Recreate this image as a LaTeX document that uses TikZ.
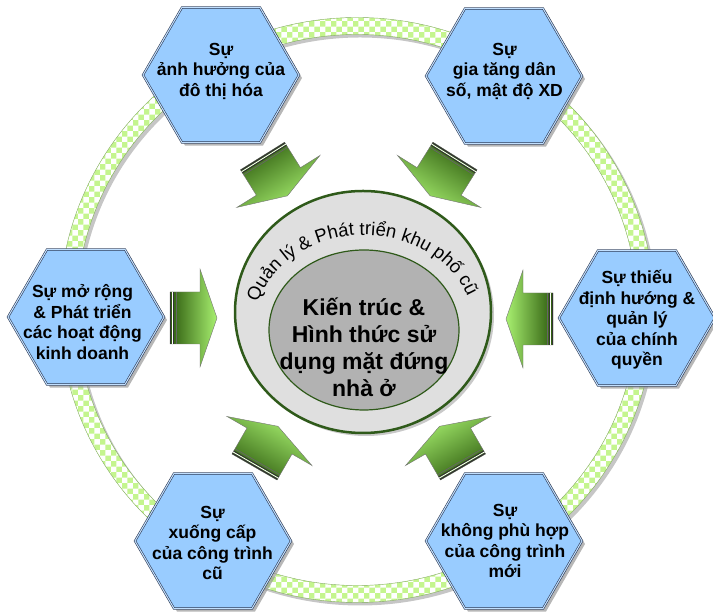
\documentclass[tikz,border=0pt]{standalone}
\usepackage{fontspec}
\setmainfont{Liberation Sans}
\usetikzlibrary{shapes.geometric,shadows,patterns,decorations.text}

\definecolor{hexblue}{HTML}{99CCFF}
\definecolor{hexline}{HTML}{2E3B55}
\definecolor{ringgreen}{HTML}{C4F58E}
\definecolor{ringline}{HTML}{86A86A}
\definecolor{darkleaf}{HTML}{2E5C0E}
\definecolor{lightleaf}{HTML}{A8F070}
\definecolor{rimgreen}{HTML}{2F5A1A}

\tikzset{
  hexa/.style={regular polygon, regular polygon sides=6, minimum size=156pt, inner sep=0pt,
    draw=hexline, line width=0.6pt, double=hexblue!60!white, double distance=1pt, fill=hexblue,
    drop shadow={shadow xshift=3pt, shadow yshift=-3pt, fill=gray!80, opacity=0.7}},
  hextext/.style={align=center, font=\bfseries\fontsize{17.5}{20.5}\selectfont},
  inarrow/.pic={
    \pgfmathsetmacro\shadeang{#1+90}
    \begin{scope}[rotate=#1]
      \shade[draw=black!55, line width=0.4pt, top color=darkleaf, bottom color=lightleaf, shading angle=\shadeang]
        (0,-26) -- (30,-26) -- (30,-49) -- (47,0) -- (30,49) -- (30,26) -- (0,26) -- cycle;
      \draw[black!80, line width=1.2pt] (0.8,-26) -- (0.8,26);
      \draw[white, line width=0.8pt] (2.3,-26) -- (2.3,26);
      \draw[black!80, line width=0.9pt] (3.6,-26) -- (3.6,26);
      \draw[black!60, line width=0.7pt] (6,-26) -- (6,26);
    \end{scope}
  }
}

\begin{document}
\begin{tikzpicture}[x=1pt, y=1pt]
		\useasboundingbox (0,0) rectangle (713,615);

		\fill[gray!45, even odd rule] (360,302) ellipse[x radius=297.5, y radius=292.5] (360,302) ellipse[x radius=280.5, y radius=275.5];
		\filldraw[fill=ringgreen, draw=ringline, even odd rule] (357,305) ellipse[x radius=297.5, y radius=292.5] (357,305) ellipse[x radius=280.5, y radius=275.5];
		\fill[pattern=checkerboard, pattern color=white, even odd rule] (357,305) ellipse[x radius=297, y radius=292] (357,305) ellipse[x radius=281, y radius=276];

		\node[hexa] (TL) at (221, 540) {};
		\node[hexa] (TR) at (504, 539) {};
		\node[hexa] (L) at (86, 298) {};
		\node[hexa] (R) at (637, 297) {};
		\node[hexa] (BL) at (213, 74) {};
		\node[hexa] (BR) at (504, 74) {};

		\node[ellipse, draw=rimgreen, line width=2.5pt, fill=gray!25, minimum width=256pt, minimum height=242pt,
			drop shadow={shadow xshift=3pt, shadow yshift=-3pt, fill=gray!60, opacity=0.7}] (O) at (363, 303) {};
		\node[ellipse, draw=rimgreen, line width=1.2pt, fill=gray!60, minimum width=190pt, minimum height=160pt] (K) at (364, 285) {};

		\path[decorate, decoration={text along path, text align=center,
			text={|\fontsize{18.5}{20}\selectfont|Quản lý {\&} Phát triển khu phố cũ}}]
			(364,285) ++(170:111 and 95) arc[start angle=170, end angle=14, x radius=111, y radius=95];

		\pic at (170, 297) {inarrow=0};
		\pic at (553, 296) {inarrow=180};
		\pic at (262.5, 459) {inarrow=-58};
		\pic at (455, 459) {inarrow=-122};
		\pic at (254.5, 148) {inarrow=60};
		\pic at (463, 148) {inarrow=120};

		% 六角形と円の中に文字を入れる
		\node[hextext] (tTL) at (221, 544) {Sự\\ảnh hưởng của\\đô thị hóa};
		\node[hextext] (tTR) at (504.5, 544) {Sự\\gia tăng dân\\số, mật độ XD};
		\node[hextext] (tL) at (82.5, 293) {Sự mở rộng\\\& Phát triển\\các hoạt động\\kinh doanh};
		\node[hextext] (tR) at (637, 295) {Sự thiếu\\định hướng \&\\quản lý\\của chính\\quyền};
		\node[hextext] (tBL) at (212.5, 72) {Sự\\xuống cấp\\của công trình\\cũ};
		\node[hextext] (tBR) at (505, 74) {Sự\\không phù hợp\\của công trình\\mới};
		\node[align=center, font=\bfseries\fontsize{23}{27}\selectfont] (tK) at (364, 268) {Kiến trúc \&\\Hình thức sử\\dụng mặt đứng\\nhà ở};

	\end{tikzpicture}
\end{document}
